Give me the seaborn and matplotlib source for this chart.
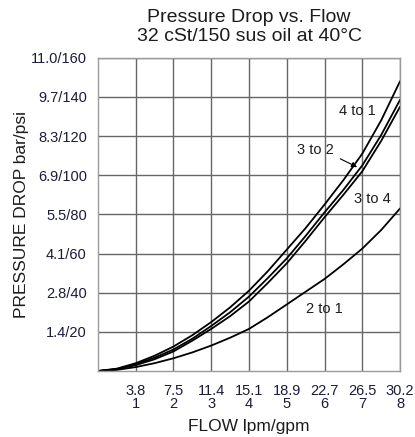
import numpy as np
import pandas as pd
import matplotlib
matplotlib.use("Agg")
import matplotlib.pyplot as plt
import seaborn as sns

# Data (flow in gpm, pressure drop in psi)
flow_gpm = [0, 0.5, 1, 1.5, 2, 2.5, 3, 3.5, 4, 4.5, 5, 5.5, 6, 6.5, 7, 7.5, 8]
p_4to1 = [0, 1.2, 4, 7.8, 12.5, 18.3, 25, 32.5, 41, 51, 62, 73, 85, 97.5, 111, 128, 148]
p_3to2 = [0, 1.0, 3.5, 6.8, 11, 16.5, 23, 30, 38, 47.5, 57.5, 69, 81, 92.5, 105, 120.5, 138.5]
p_3to4 = [0, 0.9, 3, 6, 10, 15.5, 21.5, 28, 35.5, 45, 55, 66.5, 78.5, 90, 102, 117.5, 135]
p_2to1 = [0, 0.6, 2, 4, 6.5, 9.5, 13, 17, 21.5, 27.5, 34, 40.5, 47, 54.5, 62.5, 72, 83]

series_names = ["4 to 1", "3 to 2", "3 to 4", "2 to 1"]
x_ticks = [1, 2, 3, 4, 5, 6, 7, 8]
x_tick_labels = ["3.8\n1", "7.5\n2", "11.4\n3", "15.1\n4", "18.9\n5", "22.7\n6", "26.5\n7", "30.2\n8"]
y_ticks = [20, 40, 60, 80, 100, 120, 140, 160]
y_tick_labels = ["1.4/20", "2.8/40", "4.1/60", "5.5/80", "6.9/100", "8.3/120", "9.7/140", "11.0/160"]

frames = []
for name, vals in zip(series_names, [p_4to1, p_3to2, p_3to4, p_2to1]):
    frames.append(pd.DataFrame({"flow": flow_gpm, "psi": vals, "series": name}))
df = pd.concat(frames, ignore_index=True)

sns.set_style("white")
plt.rcParams["font.family"] = ["Liberation Sans", "DejaVu Sans"]

fig = plt.figure(figsize=(4.15, 4.37), dpi=100)
ax = fig.add_axes([0.236, 0.151, 0.728, 0.717])

sns.lineplot(data=df, x="flow", y="psi", hue="series",
             palette={n: "black" for n in series_names},
             linewidth=1.3, legend=False, ax=ax)

ax.set_xlim(0, 8)
ax.set_ylim(0, 160)
ax.set_xticks(x_ticks)
ax.set_xticklabels(x_tick_labels, fontsize=10.5, color="#1c1c3a", linespacing=0.95)
ax.set_yticks(y_ticks)
ax.set_yticklabels(y_tick_labels, fontsize=10.5, color="#1c1c3a")
ax.tick_params(axis="both", length=0)
ax.tick_params(axis="x", pad=9)
ax.tick_params(axis="y", pad=8)
ax.grid(True, color="#666666", linewidth=1.0)
ax.set_axisbelow(True)
for s in ax.spines.values():
    s.set_color("#9a9a9a")
    s.set_linewidth(1.0)

ax.set_xlabel("FLOW lpm/gpm", fontsize=12.5, color="#1c1c1c", labelpad=6)
ax.set_ylabel("PRESSURE DROP bar/psi", fontsize=12.5, color="#1c1c1c", labelpad=1)
ax.set_title("Pressure Drop vs. Flow\n32 cSt/150 sus oil at 40\u00b0C",
             fontsize=14, color="#1c1c1c", pad=12, linespacing=1.15)

ax.text(6.87, 133, "4 to 1", fontsize=10.5, ha="center", va="center", color="#1c1c1c")
ax.text(5.77, 112.7, "3 to 2", fontsize=10.5, ha="center", va="center", color="#1c1c1c")
ax.annotate("", xy=(6.93, 103.5), xytext=(6.35, 109),
            arrowprops=dict(arrowstyle="-|>", color="black", lw=0.8,
                            mutation_scale=8))
ax.text(7.28, 87.7, "3 to 4", fontsize=10.5, ha="center", va="center", color="#1c1c1c")
ax.text(6.0, 31.6, "2 to 1", fontsize=10.5, ha="center", va="center", color="#1c1c1c")

fig.savefig("out.png", dpi=100)
